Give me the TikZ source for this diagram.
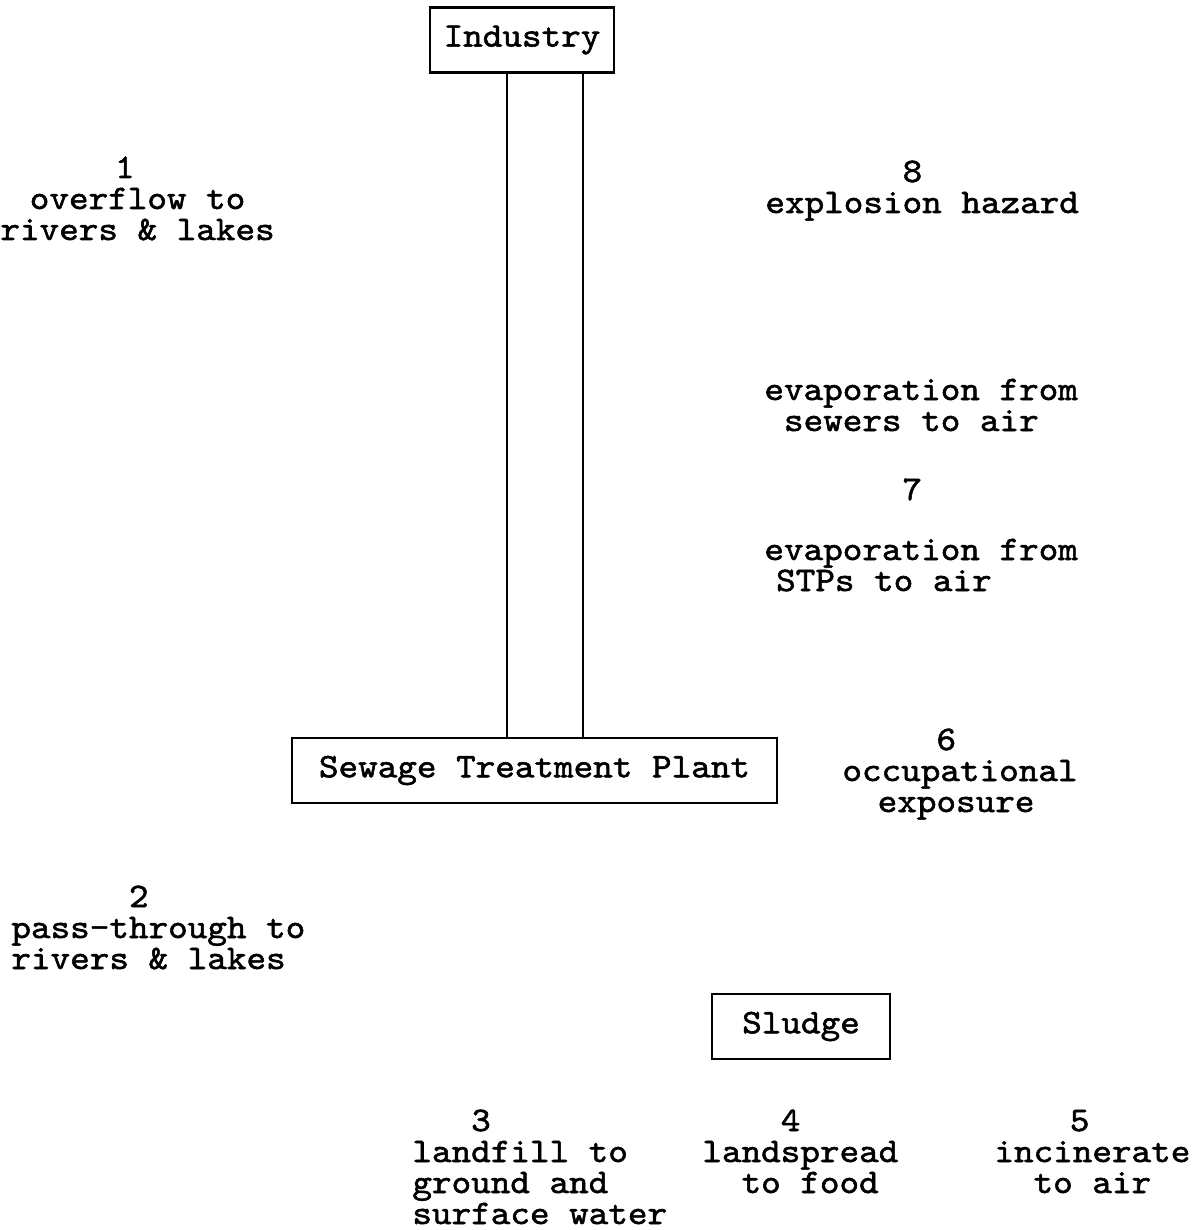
\documentclass[tikz,border=0pt]{standalone}
\usepackage{fontspec}
\setmonofont{lmmono10-regular.otf}[FakeStretch=1.085,FakeBold=1.6]
\newlength\cw
\setlength\cw{9.8pt}
\newcommand\ind[1]{\hspace*{#1\cw}}
\newcommand\typefont{\ttfamily\bfseries\fontsize{17.2}{15.5}\selectfont
  \lineskiplimit=-20pt\relax}

\begin{document}
\begin{tikzpicture}[x=.5pt,y=-.5pt,font=\typefont,
  box/.style={draw,line width=1.2pt,inner sep=0pt,minimum height=32.5pt},
  lbl/.style={align=left,inner sep=0pt,anchor=base west}]
  \useasboundingbox (0,0) rectangle (1193,1230);

  \node[box,minimum width=92pt] (ind) at (522,40) {Industry};
  \node[box,minimum width=242.5pt] (stp) at (534.5,770.5)
    {Sewage Treatment Plant};
  \node[box,minimum width=89pt] (sludge) at (801,1026.5) {Sludge};

  % the sewer pipe from industry down to the plant
  \coordinate (pl) at (507,0);
  \coordinate (pr) at (583,0);
  \draw[line width=1pt] (ind.south -| pl) -- (stp.north -| pl);
  \draw[line width=1pt] (ind.south -| pr) -- (stp.north -| pr);

  % numbered pathways (base = last line)
  \node[lbl] (overflow) at (0,240)
    {\ind{5.85}1\\\ind{1.5}overflow to\\rivers \& lakes};
  \node[lbl] (passthru) at (11,969)
    {\ind{6}2\\pass-through to\\rivers \& lakes};
  \node[lbl] (landfill) at (412,1224)
    {\ind{3}3\\landfill to\\ground and\\surface water};
  \node[lbl] (landspread) at (702,1193)
    {\ind{4}4\\landspread\\\ind{2}to food};
  \node[lbl] (incin) at (994,1193)
    {\ind{3.85}5\\incinerate\\\ind{2}to air};
  \node[lbl] (occup) at (842,812)
    {\ind{4.8}6\\occupational\\\ind{1.8}exposure};
  \node[lbl] (evapstp) at (764,591)
    {evaporation from\\\ind{.6}STPs to air};
  \node[lbl] (seven) at (902,500) {7};
  \node[lbl] (evapsewer) at (764,431)
    {evaporation from\\\ind{1}sewers to air};
  \node[lbl] (explosion) at (765,213)
    {\ind{7}8\\explosion hazard};
\end{tikzpicture}
\end{document}
